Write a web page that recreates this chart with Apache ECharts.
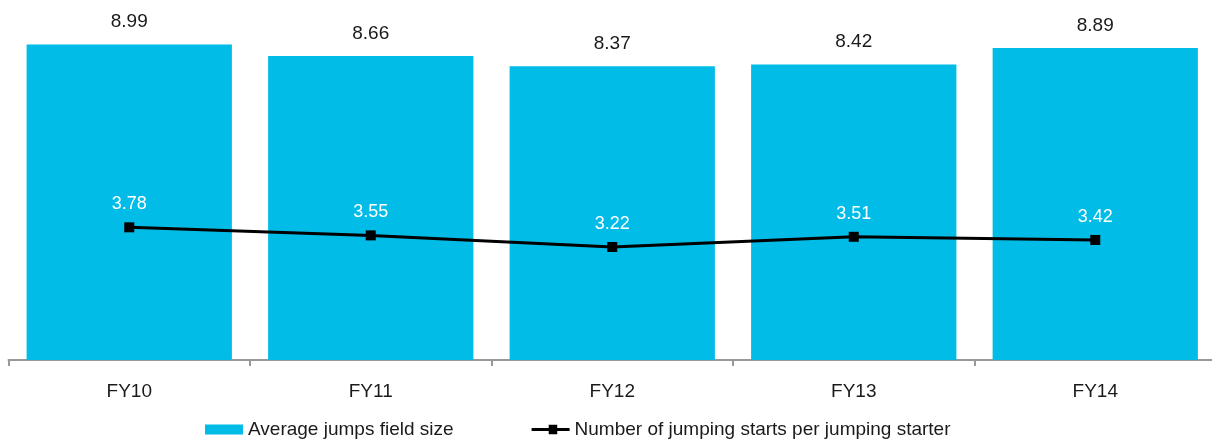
<!DOCTYPE html>
<html>
<head>
<meta charset="utf-8">
<script src="https://cdn.jsdelivr.net/npm/echarts@6/dist/echarts.min.js"></script>
<style>
  html, body { margin: 0; padding: 0; background: #fff; overflow: hidden; }
  /* canvas runs a few pixels past the right edge so the last category is cut off there */
  #chart { width: 1216px; height: 441px; }
</style>
</head>
<body>
<div id="chart"></div>
<script>
// Fiscal years on the category axis
const categories = ['FY10', 'FY11', 'FY12', 'FY13', 'FY14'];
// Average field size in jumps races
const fieldSize = [8.99, 8.66, 8.37, 8.42, 8.89];
// Starts per jumping starter
const startsPerStarter = [3.78, 3.55, 3.22, 3.51, 3.42];

const FONT = '"Liberation Sans", Arial, sans-serif';
// legend glyph: thick line with a square marker in the middle
const LINE_MARKER_ICON = 'path://M0,3.5H18V0H27V3.5H40V6.5H27V10H18V6.5H0Z';

const chart = echarts.init(document.getElementById('chart'));
chart.setOption({
  animation: false,
  textStyle: { fontFamily: FONT },
  grid: { left: 8.5, right: 0, top: 9, bottom: 81, containLabel: false },
  legend: {
    left: 205,
    top: 420,
    padding: 0,
    itemGap: 78,
    itemWidth: 38,
    itemHeight: 10,
    textStyle: { fontFamily: FONT, fontSize: 19, color: '#1a1a1a' },
    data: [
      { name: 'Average jumps field size', icon: 'rect' },
      { name: 'Number of jumping starts per jumping starter', icon: LINE_MARKER_ICON }
    ]
  },
  xAxis: {
    type: 'category',
    data: categories,
    axisLine: { lineStyle: { color: '#999', width: 2 } },
    axisTick: { show: true, length: 6, lineStyle: { color: '#999', width: 2 } },
    axisLabel: { fontFamily: FONT, fontSize: 19, color: '#1a1a1a', margin: 22 }
  },
  yAxis: {
    type: 'value',
    min: 0,
    max: 10,
    show: false,
    splitLine: { show: false }
  },
  series: [
    {
      name: 'Average jumps field size',
      type: 'bar',
      data: fieldSize,
      barCategoryGap: '15%',
      itemStyle: { color: '#00BCE6' },
      label: {
        show: true,
        position: 'top',
        distance: 13,
        fontFamily: FONT,
        fontSize: 19,
        color: '#1a1a1a',
        formatter: p => p.value.toFixed(2)
      }
    },
    {
      name: 'Number of jumping starts per jumping starter',
      type: 'line',
      data: startsPerStarter,
      symbol: 'rect',
      symbolSize: 10,
      lineStyle: { color: '#000', width: 3 },
      itemStyle: { color: '#000' },
      label: {
        show: true,
        position: 'top',
        distance: 9,
        fontFamily: FONT,
        fontSize: 18,
        color: '#fff',
        formatter: p => p.value.toFixed(2)
      }
    }
  ]
});
</script>
</body>
</html>
